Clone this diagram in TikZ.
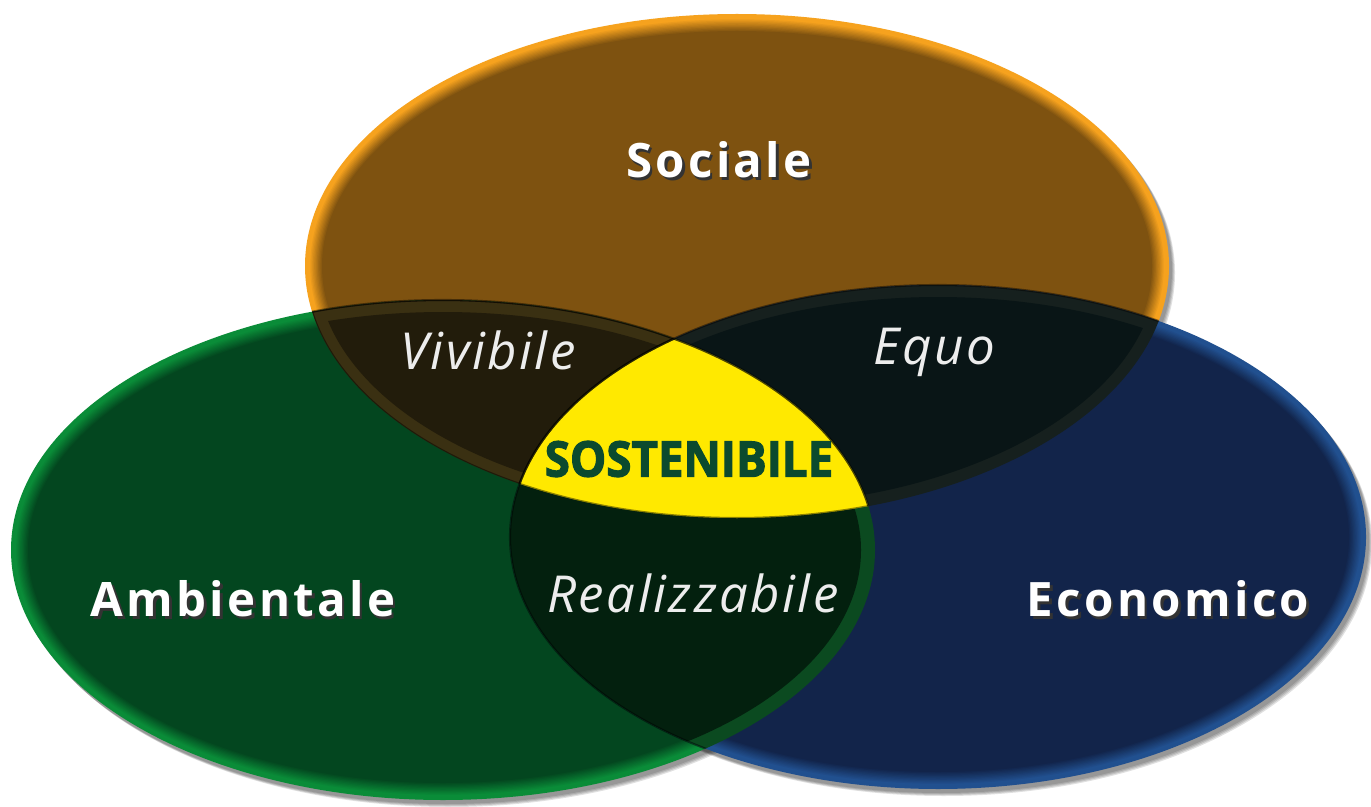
\documentclass[tikz,border=0pt]{standalone}
\usepackage{fontspec}
\setmainfont{Open Sans}
\newfontfamily\narrowfont[FakeStretch=0.93,FakeBold=2.2]{Open Sans}
\usetikzlibrary{positioning}

\definecolor{socmain}{HTML}{7E5210}
\definecolor{socrim}{HTML}{F6A21E}
\definecolor{ambmain}{HTML}{03461F}
\definecolor{ambrim}{HTML}{0A8C38}
\definecolor{ecomain}{HTML}{12244A}
\definecolor{ecorim}{HTML}{21508F}
\definecolor{vivcol}{HTML}{221C0B}
\definecolor{vivrim}{HTML}{3A3012}
\definecolor{equcol}{HTML}{091516}
\definecolor{equrim}{HTML}{16201E}
\definecolor{realcol}{HTML}{03200E}
\definecolor{realrim}{HTML}{0B4A20}
\definecolor{sostcol}{HTML}{FFE900}
\definecolor{sosttext}{HTML}{0B4A2E}

% white text with a dark cast shadow, in one box
\newcommand{\castshadow}[1]{\rlap{\kern1.4pt\raisebox{-1.4pt}{\color{black!80}#1}}#1}

\tikzset{
  setlabel/.style = {
    text=white,
    font=\fontsize{27}{30}\selectfont\bfseries\addfontfeature{LetterSpace=7}
  },
  pairlabel/.style = {
    text=white!93!black,
    font=\fontsize{29}{32}\selectfont\itshape\addfontfeature{LetterSpace=5}
  },
  edgeline/.style = {
    draw=black,
    draw opacity=0.45,
    line width=1.2pt
  },
}

\begin{document}
\begin{tikzpicture}[x=0.02cm, y=-0.02cm]
  \fill[white] (0,0) rectangle (1371,807);
  \useasboundingbox (0,0) rectangle (1371,807);

  % shadows
  \foreach \cx/\cy/\rx/\ry in {737/266/432/252, 443/550/432/250, 938/537/428/252} {
    \foreach \k in {1,...,4} {
      \fill[black, opacity=0.12] (\cx+2+\k,\cy+3+\k) ellipse [x radius=\rx, y radius=\ry];
    }
  }

  % the three sets, rim fading into the body
  \foreach \cx/\cy/\rx/\ry/\rim/\main in {737/266/432/252/socrim/socmain,
                                          443/550/432/250/ambrim/ambmain,
                                          938/537/428/252/ecorim/ecomain} {
    \fill[\rim] (\cx,\cy) ellipse [x radius=\rx, y radius=\ry];
    \foreach \k in {1,...,10} {
      \pgfmathtruncatemacro\pct{\k*10}
      \fill[\main!\pct!\rim] (\cx,\cy) ellipse [x radius=\rx-4-\k*1.3, y radius=\ry-4-\k*1.3];
    }
  }

  % sociale and ambientale
  \begin{scope}
    \clip (737,266) ellipse [x radius=432, y radius=252];
    \fill[vivrim] (443,550) ellipse [x radius=432, y radius=250];
    \clip (737,266) ellipse [x radius=420, y radius=240];
    \fill[vivcol] (443,550) ellipse [x radius=420, y radius=238];
  \end{scope}
  % sociale and economico
  \begin{scope}
    \clip (737,266) ellipse [x radius=432, y radius=252];
    \fill[equrim] (938,537) ellipse [x radius=428, y radius=252];
    \clip (737,266) ellipse [x radius=420, y radius=240];
    \fill[equcol] (938,537) ellipse [x radius=416, y radius=240];
  \end{scope}
  % ambientale and economico
  \begin{scope}
    \clip (443,550) ellipse [x radius=432, y radius=250];
    \fill[realrim] (938,537) ellipse [x radius=428, y radius=252];
    \clip (443,550) ellipse [x radius=418, y radius=236];
    \fill[realcol] (938,537) ellipse [x radius=428, y radius=252];
  \end{scope}
  % all three
  \begin{scope}
    \clip (737,266) ellipse [x radius=432, y radius=252];
    \clip (443,550) ellipse [x radius=432, y radius=250];
    \fill[sostcol] (938,537) ellipse [x radius=428, y radius=252];
    \draw[edgeline] (443,550) ellipse [x radius=432, y radius=250];
    \draw[edgeline] (938,537) ellipse [x radius=428, y radius=252];
    \draw[edgeline] (737,266) ellipse [x radius=432, y radius=252];
  \end{scope}

  % inner edges
  \begin{scope}
    \clip (737,266) ellipse [x radius=432, y radius=252];
    \draw[edgeline] (443,550) ellipse [x radius=432, y radius=250];
    \draw[edgeline] (938,537) ellipse [x radius=428, y radius=252];
  \end{scope}
  \begin{scope}
    \clip (443,550) ellipse [x radius=432, y radius=250];
    \draw[edgeline] (938,537) ellipse [x radius=428, y radius=252];
  \end{scope}

  % labels
  \node[setlabel] (sociale) at (719,161) {\castshadow{Sociale}};
  \node[setlabel] (ambientale) at (243,600) {\castshadow{Ambientale}};
  \node[setlabel] (economico) at (1168,600) {\castshadow{Economico}};

  \node[pairlabel] (vivibile) at (488,350) {Vivibile};
  \node[pairlabel] (equo) at (934,352) {Equo};
  \node[pairlabel] (realizzabile) at (693,593) {Realizzabile};

  \node[text=sosttext, font=\fontsize{28}{30}\selectfont\narrowfont\bfseries] (sostenibile) at (689,459) {SOSTENIBILE};
\end{tikzpicture}
\end{document}
